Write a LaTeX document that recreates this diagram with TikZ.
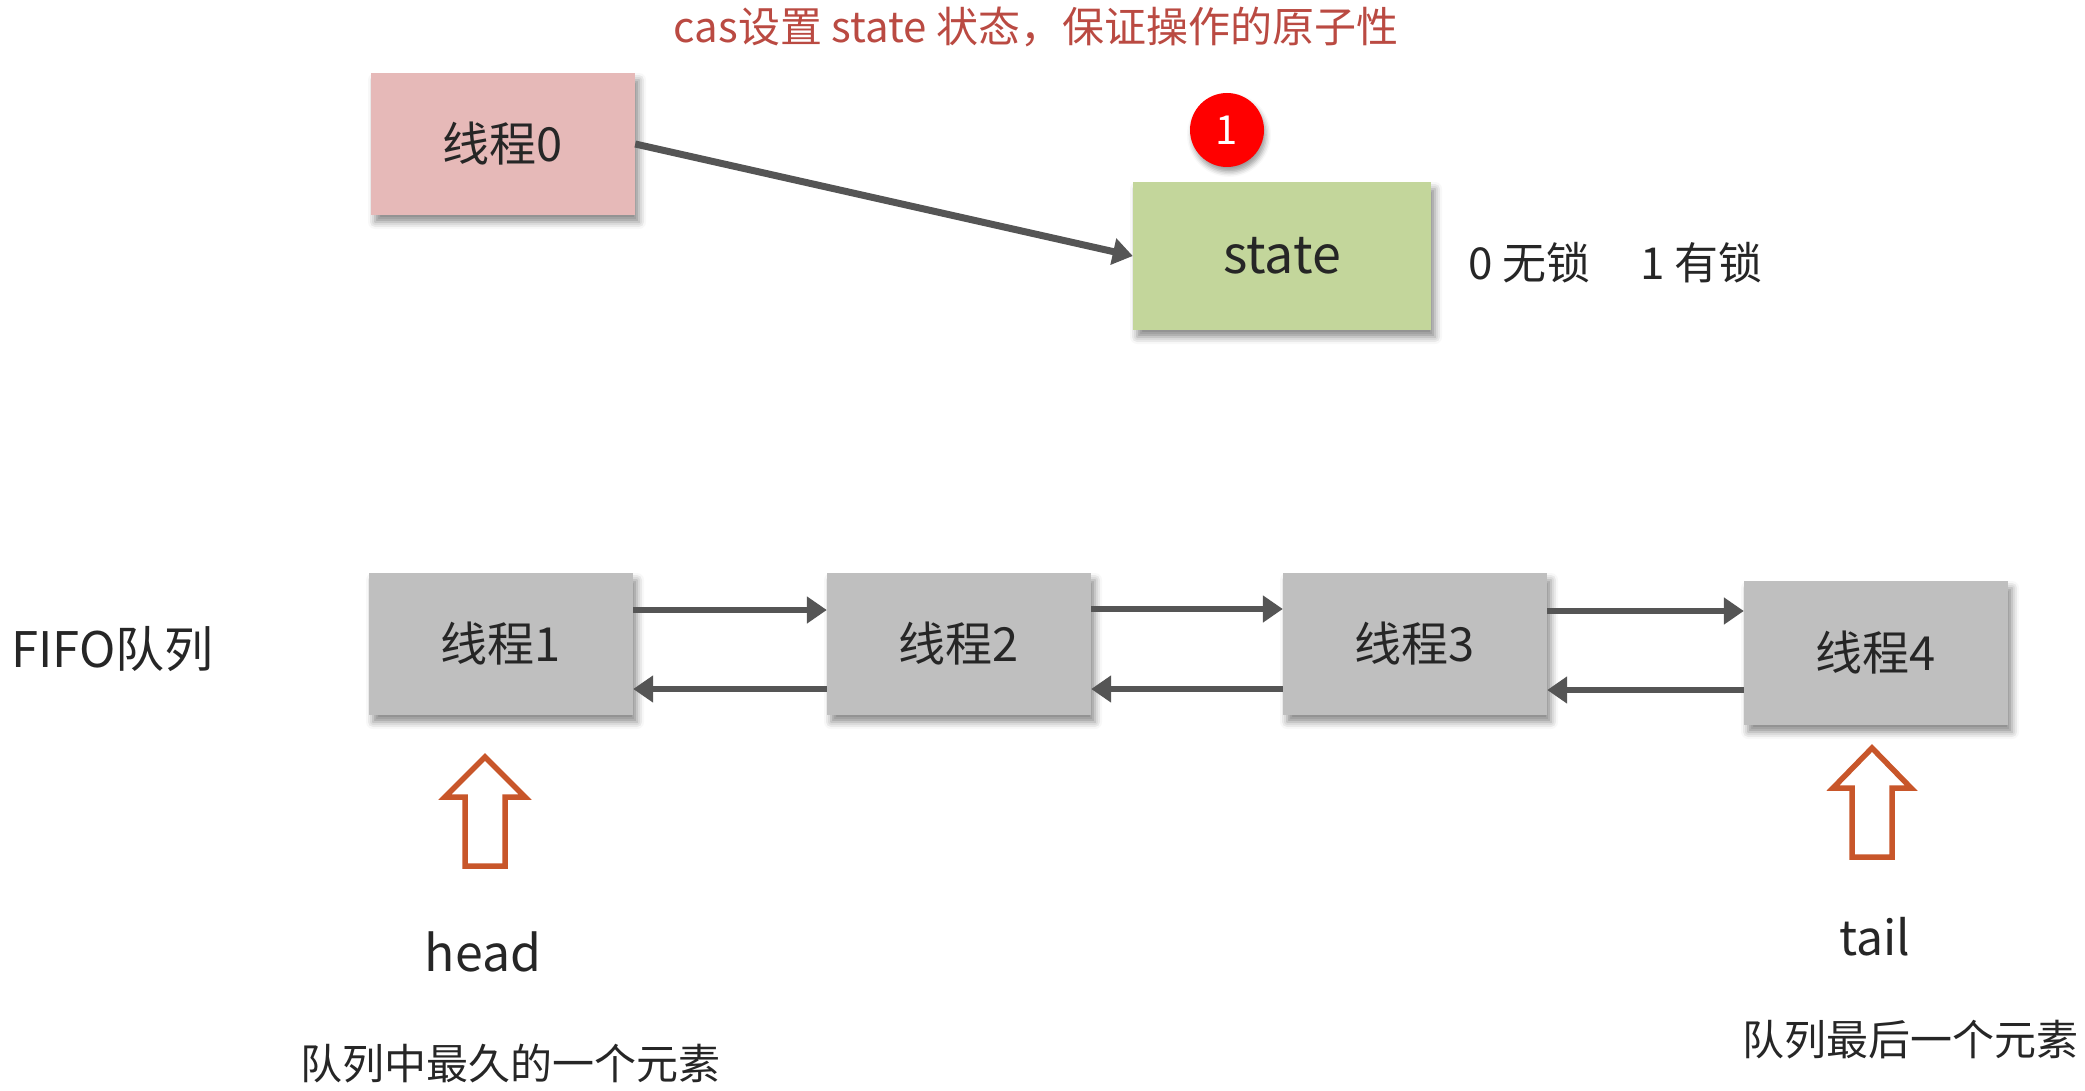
\documentclass[tikz,border=0pt]{standalone}
\usepackage{fontspec}
\setmainfont{Noto Sans CJK SC}
\usetikzlibrary{arrows.meta,shadows.blur,calc}
\definecolor{pinkbox}{HTML}{E6B9B8}
\definecolor{greenbox}{HTML}{C3D69B}
\definecolor{graybox}{HTML}{BFBFBF}
\definecolor{titlered}{HTML}{BA4A42}
\definecolor{arrowgray}{HTML}{555555}
\definecolor{orangearrow}{HTML}{C8562A}
\definecolor{txt}{HTML}{262626}
\begin{document}
\begin{tikzpicture}[x=1pt,y=-1pt,
  box/.style={minimum width=264pt,minimum height=142pt,inner sep=0pt,
    font=\fontsize{47}{52}\selectfont,text=txt,
    blur shadow={shadow xshift=4pt,shadow yshift=-7pt,shadow blur radius=7pt,shadow opacity=45}},
  link/.style={draw=arrowgray,line width=6.5pt,-{Triangle[length=20pt,width=26pt]}},
  lbl/.style={text=txt,inner sep=0pt},
  blockarrow/.style={draw=orangearrow,line width=5.5pt,fill=white,line join=miter}]
\useasboundingbox (0,0) rectangle (2085,1091);
% top part
\node[lbl,text=titlered,font=\fontsize{42}{48}\selectfont] (title) at (1036,27) {cas设置 state 状态，保证操作的原子性};
\node[box,fill=pinkbox] (t0) at (503,144) {线程0};
\node[box,fill=greenbox,minimum width=298pt,minimum height=148pt,font=\fontsize{52}{58}\selectfont] (state) at (1282,256) {state};
\node[circle,fill=red,minimum size=74pt,inner sep=0pt,text=white,
  font=\fontsize{40}{44}\selectfont,
  blur shadow={shadow xshift=2pt,shadow yshift=-5pt,shadow blur radius=5pt,shadow opacity=40}] (one) at (1227,130) {1};
\node[lbl,font=\fontsize{44}{50}\selectfont,anchor=west] (locks) at (1468,263) {0 无锁\hspace{50pt}1 有锁};
\draw[link,line width=7pt] (t0.east) -- (state.west);
% queue
\node[lbl,font=\fontsize{49}{54}\selectfont,anchor=west] (fifo) at (11,649) {FIFO队列};
\node[box,fill=graybox] (t1) at (501,644) {线程1};
\node[box,fill=graybox] (t2) at (959,644) {线程2};
\node[box,fill=graybox] (t3) at (1415,644) {线程3};
\node[box,fill=graybox,minimum height=144pt] (t4) at (1876,653) {线程4};
\coordinate (f1) at ($(t1.east)+(0,-34)$);
\coordinate (b1) at ($(t1.east)+(0,45)$);
\coordinate (f2) at ($(t2.east)+(0,-35)$);
\coordinate (b2) at ($(t2.east)+(0,45)$);
\coordinate (f3) at ($(t3.east)+(0,-33)$);
\coordinate (b3) at ($(t3.east)+(0,46)$);
\draw[link] (f1) -- (f1 -| t2.west);
\draw[link] (b1 -| t2.west) -- (b1);
\draw[link] (f2) -- (f2 -| t3.west);
\draw[link] (b2 -| t3.west) -- (b2);
\draw[link] (f3) -- (f3 -| t4.west);
\draw[link] (b3 -| t4.west) -- (b3);
% head / tail pointers
\draw[blockarrow] (485,757) -- (525,797) -- (505,797) -- (505,866) -- (465,866) -- (465,797) -- (445,797) -- cycle;
\draw[blockarrow] (1872,748) -- (1911,788) -- (1892,788) -- (1892,857) -- (1852,857) -- (1852,788) -- (1833,788) -- cycle;
\node[lbl,font=\fontsize{50}{56}\selectfont] (head) at (483,952) {head};
\node[lbl,font=\fontsize{48}{54}\selectfont] (tail) at (1875,937) {tail};
\node[lbl,font=\fontsize{42}{48}\selectfont] (headdesc) at (510,1064) {队列中最久的一个元素};
\node[lbl,font=\fontsize{42}{48}\selectfont] (taildesc) at (1910,1040) {队列最后一个元素};
\end{tikzpicture}
\end{document}
